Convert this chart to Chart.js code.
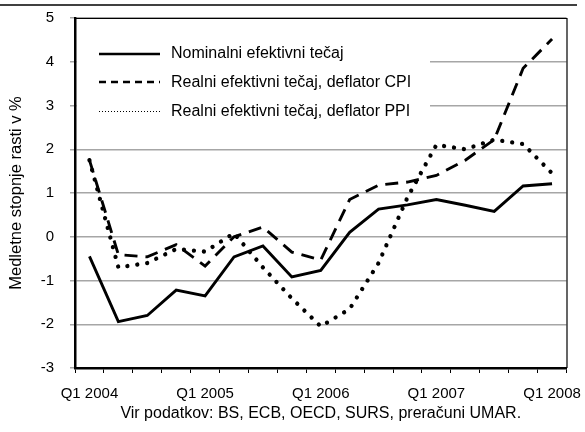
<!DOCTYPE html>
<html>
<head>
<meta charset="utf-8">
<script src="https://cdn.jsdelivr.net/npm/chart.js@4/dist/chart.umd.min.js"></script>
<style>
  html, body { margin: 0; padding: 0; background: #fff; }
  #wrap { width: 585px; height: 432px; position: relative; }
</style>
</head>
<body>
<div id="wrap"><canvas id="c" width="585" height="432"></canvas></div>
<script>
const categories = ['Q1 2004','Q2 2004','Q3 2004','Q4 2004','Q1 2005','Q2 2005','Q3 2005','Q4 2005','Q1 2006','Q2 2006','Q3 2006','Q4 2006','Q1 2007','Q2 2007','Q3 2007','Q4 2007','Q1 2008'];
const seriesNames = ['Nominalni efektivni tečaj', 'Realni efektivni tečaj, deflator CPI', 'Realni efektivni tečaj, deflator PPI'];
const nominal = [-0.45, -1.94, -1.80, -1.22, -1.35, -0.46, -0.21, -0.92, -0.77, 0.10, 0.63, 0.73, 0.85, 0.72, 0.58, 1.16, 1.21];
const realCPI = [1.75, -0.41, -0.46, -0.18, -0.67, 0.00, 0.22, -0.35, -0.53, 0.85, 1.18, 1.25, 1.40, 1.75, 2.22, 3.85, 4.52];
const realPPI = [1.75, -0.70, -0.60, -0.28, -0.34, 0.08, -0.70, -1.41, -2.05, -1.65, -0.60, 0.90, 2.10, 2.00, 2.22, 2.12, 1.45];
const yTitle = 'Medletne stopnje rasti v %';
const xTitle = 'Vir podatkov: BS, ECB, OECD, SURS, preračuni UMAR.';

const FONT = '"Liberation Sans", Arial, sans-serif';

const decorPlugin = {
  id: 'decor',
  beforeDatasetsDraw(chart) {
    const ctx = chart.ctx, a = chart.chartArea;
    ctx.save();
    // white legend box
    ctx.fillStyle = '#ffffff';
    ctx.fillRect(a.left + 2, a.top + 1, 355 - 2, 122);
    // legend items
    const styles = [
      { dash: [], width: 2.5 },
      { dash: [7, 5], width: 2.5 },
      { dash: [1, 2], width: 1 }
    ];
    chart.data.datasets.forEach((ds, i) => {
      const y = a.top + 35.5 + i * 28.7;
      const yy = Math.round(y) + (styles[i].width === 1 ? 0.5 : 0);
      ctx.beginPath();
      ctx.strokeStyle = '#000';
      ctx.lineWidth = styles[i].width;
      ctx.lineCap = 'butt';
      ctx.setLineDash(styles[i].dash);
      ctx.moveTo(a.left + 24, yy);
      ctx.lineTo(a.left + 85, yy);
      ctx.stroke();
      ctx.setLineDash([]);
      ctx.fillStyle = '#000';
      ctx.font = '16px ' + FONT;
      ctx.textAlign = 'left';
      ctx.textBaseline = 'middle';
      ctx.fillText(ds.label, a.left + 96, y + 0.5);
    });
    ctx.restore();
  },
  afterDraw(chart) {
    const ctx = chart.ctx, a = chart.chartArea;
    ctx.save();
    ctx.strokeStyle = '#000';
    ctx.setLineDash([]);
    // top & right border of plot area
    ctx.lineWidth = 1.2;
    ctx.beginPath();
    ctx.moveTo(a.left, a.top + 0.5);
    ctx.lineTo(a.right + 0.5, a.top + 0.5);
    ctx.lineTo(a.right + 0.5, a.bottom);
    ctx.stroke();
    // page separator line at top
    ctx.lineWidth = 1.5;
    ctx.beginPath();
    ctx.moveTo(0, 5);
    ctx.lineTo(577, 5);
    ctx.stroke();
    ctx.restore();
  }
};

new Chart(document.getElementById('c'), {
  type: 'line',
  data: {
    labels: categories,
    datasets: [
      { label: seriesNames[0], data: nominal, borderColor: '#000', borderWidth: 2.9, pointRadius: 0, tension: 0, fill: false, borderJoinStyle: 'miter' },
      { label: seriesNames[1], data: realCPI, borderColor: '#000', borderWidth: 2.9, borderDash: [13, 8], pointRadius: 0, tension: 0, fill: false },
      { label: seriesNames[2], data: realPPI, borderColor: '#000', borderWidth: 4.3, borderDash: [0.01, 10], borderCapStyle: 'round', pointRadius: 0, tension: 0, fill: false }
    ]
  },
  options: {
    responsive: false,
    animation: false,
    devicePixelRatio: 1,
    layout: { padding: { left: 0, right: 18.5, top: 18, bottom: 0 } },
    plugins: { legend: { display: false }, tooltip: { enabled: false } },
    scales: {
      x: {
        type: 'category',
        offset: true,
        grid: { offset: true, drawOnChartArea: false, drawTicks: true, tickLength: 5, color: '#000', lineWidth: 1 },
        border: { display: true, color: '#000', width: 2.5 },
        ticks: {
          autoSkip: false, maxRotation: 0, minRotation: 0, padding: 12,
          color: '#000', font: { family: FONT, size: 15 },
          callback: function(v, i) { const l = this.getLabelForValue(v); return l.startsWith('Q1') ? l : ''; }
        },
        title: { display: true, text: xTitle, color: '#000', font: { family: FONT, size: 16 }, padding: { top: 0, bottom: 9 } },
        afterFit: (s) => { s.height = 64; s.paddingLeft = 0; s.paddingRight = 0; }
      },
      y: {
        min: -3, max: 5,
        ticks: { stepSize: 1, padding: 16, color: '#000', font: { family: FONT, size: 15 } },
        grid: { color: '#a6a6a6', lineWidth: 1.5, tickLength: 5, drawTicks: true },
        border: { display: true, color: '#000', width: 2.5 },
        title: { display: true, text: yTitle, color: '#000', font: { family: FONT, size: 16.5 }, padding: { top: 7, bottom: 0 } },
        afterFit: (s) => { s.width = 75; s.paddingTop = 0; s.paddingBottom = 0; }
      }
    }
  },
  plugins: [decorPlugin]
});
</script>
</body>
</html>
